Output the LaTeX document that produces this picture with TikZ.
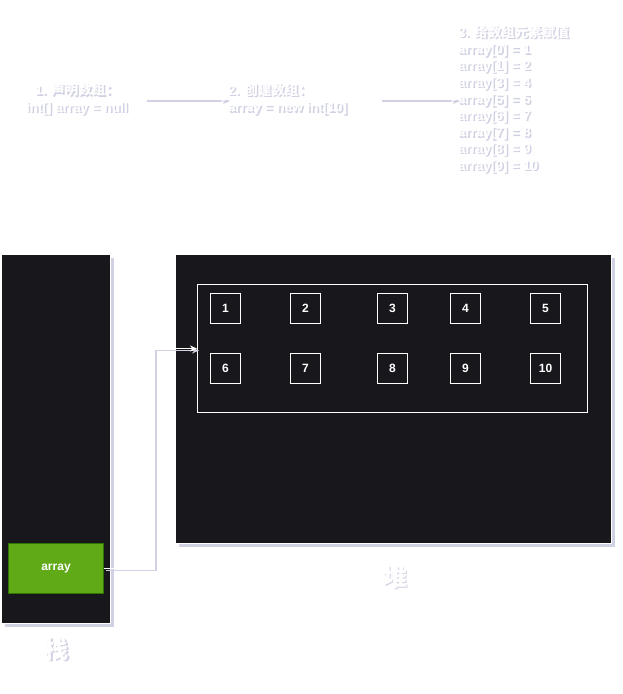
\documentclass[tikz,border=0pt]{standalone}
\usepackage{fontspec}
\setmainfont{Liberation Sans}
\newfontfamily\cjk{Noto Sans CJK SC}
\usetikzlibrary{calc,arrows.meta,shadows}
\definecolor{dk}{RGB}{24,23,28}
\definecolor{shc}{RGB}{208,209,226}
\definecolor{grn}{RGB}{96,169,23}
\definecolor{grnb}{RGB}{45,118,0}
\newcommand\shl[1]{\leavevmode\rlap{\kern1.5pt\raisebox{-1.5pt}{\color{shc}#1}}#1}
\begin{document}
\begin{tikzpicture}[x=1pt,y=-1pt,
  toptext/.style={font=\fontsize{13.5}{16.6}\selectfont\bfseries, text=white, inner sep=0pt},
  biglabel/.style={font=\fontsize{24}{28}\selectfont\bfseries\cjk, text=white, inner sep=0pt},
  region/.style={fill=dk, draw=white, line width=1pt, inner sep=0pt, anchor=north west,
    drop shadow={shadow xshift=3pt, shadow yshift=-3pt, fill=shc, opacity=1}},
  frame/.style={draw=white, line width=1pt, inner sep=0pt, anchor=north west},
  cell/.style={draw=white, line width=1pt, inner sep=0pt, anchor=north west, minimum size=30pt,
    font=\fontsize{12}{14}\selectfont\bfseries, text=white},
  greenbox/.style={fill=grn, draw=grnb, line width=1pt, inner sep=0pt, anchor=north west,
    minimum width=95pt, minimum height=50pt, font=\fontsize{12}{14}\selectfont\bfseries, text=white},
  conn/.style={draw=white, line width=1pt, -{Stealth[length=7pt,width=6pt]},
    preaction={draw=shc, line width=1.5pt, transform canvas={xshift=2pt,yshift=-2pt}}}
]
\useasboundingbox (0,0) rectangle (622,694);

% top texts
\node[toptext, align=center, font=\fontsize{13.5}{17.5}\selectfont\bfseries] (t1) at (77,100) {\shl{1. {\cjk 声明数组：}}\\\shl{int[] array = null}};

\node[toptext, align=left, anchor=west] (t2) at (228,100) {\shl{2. {\cjk 创建数组：}}\\\shl{array = new int[10]}};

\node[toptext, align=left, anchor=west] (t3) at (458,100) {\shl{3. {\cjk 给数组元素赋值}}\\\shl{array[0] = 1}\\\shl{array[1] = 2}\\\shl{array[3] = 4}\\\shl{array[5] = 6}\\\shl{array[6] = 7}\\\shl{array[7] = 8}\\\shl{array[8] = 9}\\\shl{array[9] = 10}};

\coordinate (a1) at (145,99);
\coordinate (a2) at (380,99);
\draw[conn] (a1) -- (t2.west |- a1);
\draw[conn] (a2) -- (t3.west |- a2);

% stack and heap
\node[region, minimum width=109pt, minimum height=369pt] (stack) at (1,254) {};
\node[region, minimum width=436pt, minimum height=289pt] (heap) at (175,254) {};
\node[frame, minimum width=390pt, minimum height=128pt] (inner) at (197,284) {};

\node[cell] (c1) at (210,293) {1};
\node[cell] (c2) at (290,293) {2};
\node[cell] (c3) at (377,293) {3};
\node[cell] (c4) at (450,293) {4};
\node[cell] (c5) at (530,293) {5};
\node[cell] (c6) at (210,353) {6};
\node[cell] (c7) at (290,353) {7};
\node[cell] (c8) at (377,353) {8};
\node[cell] (c9) at (450,353) {9};
\node[cell] (c10) at (530,353) {10};

\node[greenbox] (arr) at (8,543) {array};

\draw[conn] (arr.east) -- ++(50,0) |- (inner.west);

% labels
\node[biglabel] (zhan) at (57,650) {\shl{栈}};
\node[biglabel] (dui) at (395,578) {\shl{堆}};
\end{tikzpicture}
\end{document}
